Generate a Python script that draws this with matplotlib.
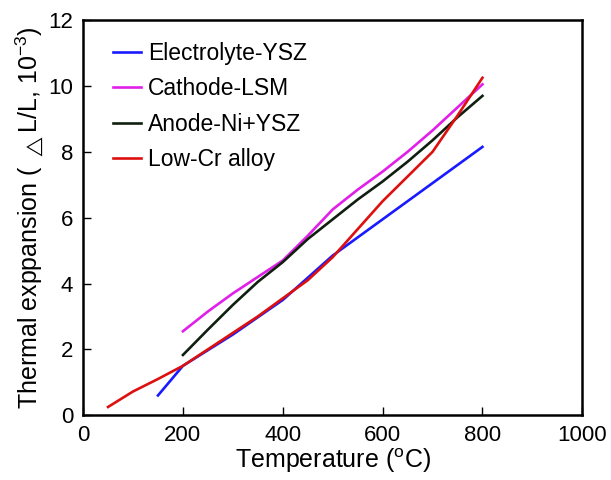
import matplotlib
matplotlib.use("Agg")
import matplotlib.pyplot as plt

plt.rcParams["font.family"] = ["Liberation Sans", "DejaVu Sans"]
plt.rcParams["mathtext.fontset"] = "custom"
plt.rcParams["mathtext.rm"] = "Liberation Sans"

# temperature (C) / thermal expansion (dL/L, 1e-3)
ysz_t = [150, 175, 200, 300, 400, 500, 600, 700, 800]
ysz_v = [0.6, 1.05, 1.5, 2.45, 3.5, 4.85, 5.95, 7.05, 8.15]

lsm_t = [200, 250, 300, 350, 400, 450, 500, 550, 600, 650, 700, 750, 800]
lsm_v = [2.55, 3.15, 3.7, 4.2, 4.7, 5.45, 6.25, 6.85, 7.4, 8.0, 8.65, 9.35, 10.05]

ni_t = [200, 250, 300, 350, 400, 450, 500, 550, 600, 650, 700, 750, 800]
ni_v = [1.83, 2.6, 3.35, 4.05, 4.65, 5.35, 5.95, 6.55, 7.1, 7.7, 8.35, 9.05, 9.7]

cr_t = [50, 100, 150, 200, 250, 300, 350, 400, 450, 500, 550, 600, 650, 700, 750, 800]
cr_v = [0.25, 0.72, 1.1, 1.5, 2.0, 2.5, 3.0, 3.55, 4.1, 4.8, 5.65, 6.5, 7.25, 8.0, 9.1, 10.25]

fig = plt.figure(figsize=(6.11, 4.8), dpi=100)
ax = fig.add_axes([0.136, 0.135, 0.817, 0.823])

ax.plot(ysz_t, ysz_v, color="#1a1aff", lw=1.9, label="Electrolyte-YSZ")
ax.plot(lsm_t, lsm_v, color="#e020e8", lw=1.9, label="Cathode-LSM")
ax.plot(ni_t, ni_v, color="#102010", lw=1.9, label="Anode-Ni+YSZ")
ax.plot(cr_t, cr_v, color="#dd1010", lw=1.9, label="Low-Cr alloy")

ax.set_xlim(0, 1000)
ax.set_ylim(0, 12)
ax.set_xticks(range(0, 1001, 200))
ax.set_yticks(range(0, 13, 2))
ax.tick_params(direction="in", length=6, width=1, labelsize=16, pad=7)
for s in ax.spines.values():
    s.set_linewidth(1.8)

ax.set_xlabel("Temperature ($\\mathregular{^o}$C)", fontsize=18, labelpad=0)
ax.set_ylabel("Thermal exppansion ( $\\mathregular{_{\\triangle}}$L/L, 10$\\mathregular{^{-3}}$)",
              fontsize=18, labelpad=2)

ax.legend(loc="upper left", bbox_to_anchor=(0.018, 0.998), frameon=False, fontsize=16.5,
          handlelength=1.25, handletextpad=0.28, labelspacing=0.55)

fig.savefig("out.png", dpi=100)
